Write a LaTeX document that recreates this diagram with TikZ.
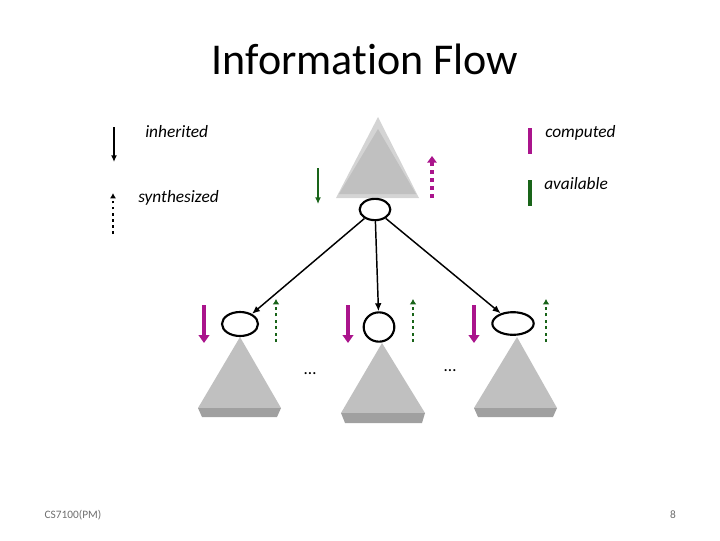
\documentclass[tikz,border=0pt]{standalone}
\usepackage{fontspec}
\setmainfont[Ligatures={NoCommon}]{Carlito}
\usetikzlibrary{arrows.meta,shapes.geometric}
\definecolor{mag}{RGB}{170,20,140}
\definecolor{dgreen}{RGB}{25,100,25}
\definecolor{tri}{RGB}{192,192,192}
\definecolor{triband}{RGB}{160,160,160}
\definecolor{trilight}{RGB}{212,212,212}
\definecolor{foot}{RGB}{110,110,110}
\begin{document}
\begin{tikzpicture}[x=0.75pt,y=-0.75pt,
  attr/.style={ellipse,draw,line width=1.6pt,inner sep=0pt},
  treeedge/.style={line width=1.1pt,-{Latex[length=6pt,width=5pt]}},
  inhblack/.style={line width=1.1pt,-{Latex[length=5pt,width=4.5pt]}},
  synblack/.style={line width=1.2pt,dash pattern=on 2pt off 2.6pt,-{Latex[length=4pt,width=4.5pt]}},
  magdown/.style={mag,line width=3pt,-{Triangle[length=6pt,width=8pt]}},
  magup/.style={mag,line width=3pt,dash pattern=on 3pt off 3pt,-{Triangle[length=5pt,width=7pt]}},
  greendown/.style={dgreen,line width=1.1pt,-{Latex[length=5pt,width=4.5pt]}},
  greenup/.style={dgreen,line width=2pt,dash pattern=on 2.2pt off 2.6pt,-{Latex[length=4pt,width=5pt]}},
  legend/.style={anchor=west,inner sep=0pt,font=\itshape\fontsize{13}{15}\selectfont},
  dots/.style={inner sep=0pt,font=\fontsize{13}{15}\selectfont},
  footer/.style={inner sep=0pt,text=foot,font=\fontsize{8.5}{10}\selectfont}]
\useasboundingbox (0,0) rectangle (720,540);

% title
\node[inner sep=0pt,font=\fontsize{33}{39}\selectfont] (title) at (365,59) {Information Flow};

% top triangle
\fill[trilight] (336,198) -- (378,117) -- (419,198) -- cycle;
\fill[tri] (339,194) -- (378,129) -- (416,194) -- cycle;

% child triangles
\fill[tri] (198,408) -- (240,337) -- (281,408) -- cycle;
\fill[triband] (198,408) -- (281,408) -- (277,417) -- (202,417) -- cycle;
\fill[tri] (341,413) -- (382,343) -- (425,413) -- cycle;
\fill[triband] (341,413) -- (425,413) -- (422,423) -- (345,423) -- cycle;
\fill[tri] (474,408) -- (517,337) -- (557,408) -- cycle;
\fill[triband] (474,408) -- (557,408) -- (553,417) -- (478,417) -- cycle;

% attribute nodes
\node[attr,minimum width=23pt,minimum height=16pt] (root) at (375,209.5) {};
\node[attr,minimum width=27pt,minimum height=18pt] (c1) at (240,324) {};
\node[attr,minimum width=23pt,minimum height=22pt] (c2) at (379,327) {};
\node[attr,minimum width=31pt,minimum height=17pt] (c3) at (513,323.5) {};

\draw[treeedge] (root) -- (c1);
\draw[treeedge] (root) -- (c2);
\draw[treeedge] (root) -- (c3);

% legend
\coordinate (li1) at (114,127); \coordinate (li2) at (114,162);
\draw[inhblack] (li1) -- (li2);
\coordinate (ls1) at (113,234); \coordinate (ls2) at (113,193);
\draw[synblack] (ls1) -- (ls2);
\node[legend] (inh) at (145,132) {inherited};
\node[legend] (syn) at (138,198) {synthesized};

\coordinate (cb1) at (530,128); \coordinate (cb2) at (530,154);
\draw[mag,line width=3pt] (cb1) -- (cb2);
\coordinate (ab1) at (530,180); \coordinate (ab2) at (530,206);
\draw[dgreen,line width=3pt] (ab1) -- (ab2);
\node[legend] (comp) at (545,133) {computed};
\node[legend] (avail) at (544,184) {available};

% arrows near root
\coordinate (g1) at (318,168); \coordinate (g2) at (318,204);
\draw[greendown] (g1) -- (g2);
\coordinate (m1) at (432,198); \coordinate (m2) at (432,156);
\draw[magup] (m1) -- (m2);

% arrows near children
\foreach \x/\n in {204/a,348/b,474/c}{
  \coordinate (md\n1) at (\x,305); \coordinate (md\n2) at (\x,343);
  \draw[magdown] (md\n1) -- (md\n2);
}
\foreach \x/\n in {276/a,413/b,546/c}{
  \coordinate (gu\n1) at (\x,342); \coordinate (gu\n2) at (\x,299);
  \draw[greenup] (gu\n1) -- (gu\n2);
}

\node[dots] (d1) at (310,374) {\dots};
\node[dots] (d2) at (450,371) {\dots};

% footer
\node[footer] (cs) at (73,515) {CS7100(PM)};
\node[footer] (pg) at (673,515) {8};
\end{tikzpicture}
\end{document}
